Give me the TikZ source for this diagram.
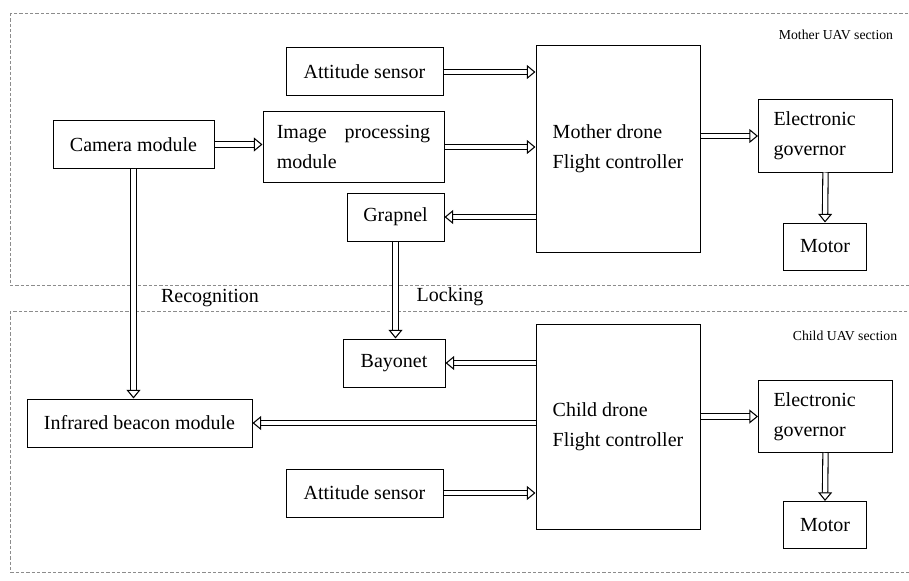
\documentclass[tikz,border=0pt]{standalone}
\usepackage{fontspec}
\setmainfont{Liberation Serif}
\usetikzlibrary{arrows.meta}

\begin{document}
\begin{tikzpicture}[x=0.75pt, y=-0.75pt,
    blk/.style={draw, line width=0.75pt, inner sep=0pt, font=\fontsize{15}{22.5}\selectfont},
    dbl/.style={double, double distance=3.2pt, line width=0.8pt, -{Triangle[open, length=6.5pt, width=10.5pt, line width=0.8pt]}},
    sect/.style={draw=gray!90, line width=0.6pt, dash pattern=on 2.5pt off 1.5pt},
    lbl/.style={font=\fontsize{15}{18}\selectfont},
    tag/.style={font=\fontsize{10.3}{12}\selectfont}]
    \useasboundingbox (0,0) rectangle (909,581);

    % Section frames (right edge runs off the page)
    \draw[sect] (10,13) rectangle (915,285);
    \draw[sect] (10,311) rectangle (915,572);
    \node[tag] (msec) at (836,35) {Mother UAV section};
    \node[tag] (csec) at (845,336) {Child UAV section};

    % Mother UAV blocks
    \node[blk, minimum width=120.75pt, minimum height=35.25pt] (cam) at (133.5,144.5) {Camera module};
    \node[blk, minimum width=135.75pt, minimum height=52.5pt, text width=115pt, align=left] (imgp) at (353.5,147) {Image \hfill processing\\module};
    \node[blk, minimum width=123pt, minimum height=154.5pt, align=left] (mfc) at (618,149) {Mother drone\\Flight controller};
    \node[blk, minimum width=72.75pt, minimum height=36pt] (grap) at (395.5,217) {Grapnel};

    % Child UAV blocks
    \node[blk, minimum width=76.5pt, minimum height=36pt] (bay) at (394,363) {Bayonet};
    \node[blk, minimum width=168.75pt, minimum height=36pt] (ir) at (139.5,423) {Infrared beacon module};
    \node[blk, minimum width=123pt, minimum height=153.75pt, align=left] (cfc) at (618,426.5) {Child drone\\Flight controller};

    % Attitude sensors, governors and motors: same in both sections
    \foreach \s/\ya/\ye/\ym in {m/72/136/246.5, c/493/416.5/525} {
      \node[blk, minimum width=117.75pt, minimum height=36pt] (att\s) at (364.5,\ya) {Attitude sensor};
      \node[blk, minimum width=100.5pt, minimum height=54pt, text width=78pt, align=left] (esc\s) at (825.5,\ye) {Electronic\\governor};
      \node[blk, minimum width=62.5pt, minimum height=35.25pt] (mot\s) at (825,\ym) {Motor};
      \draw[dbl] (att\s.east) -- (att\s.east -| \s fc.west);
      \draw[dbl] (\s fc.east |- esc\s.west) -- (esc\s.west);
      \draw[dbl] (esc\s.south) -- (mot\s.north);
    }

    % Links in the mother section
    \draw[dbl] (cam.east) -- (cam.east -| imgp.west);
    \draw[dbl] (imgp.east) -- (imgp.east -| mfc.west);
    \draw[dbl] (grap.east -| mfc.west) -- (grap.east);

    % Links in the child section
    \draw[dbl] (bay.east -| cfc.west) -- (bay.east);
    \draw[dbl] (ir.east -| cfc.west) -- (ir.east);

    % Links between the two drones
    \draw[dbl] (cam.south) -- (cam.south |- ir.north);
    \draw[dbl] (grap.south) -- (grap.south |- bay.north);
    \node[lbl] (recog) at (210,298) {Recognition};
    \node[lbl] (lock) at (450,297) {Locking};
  \end{tikzpicture}
\end{document}
